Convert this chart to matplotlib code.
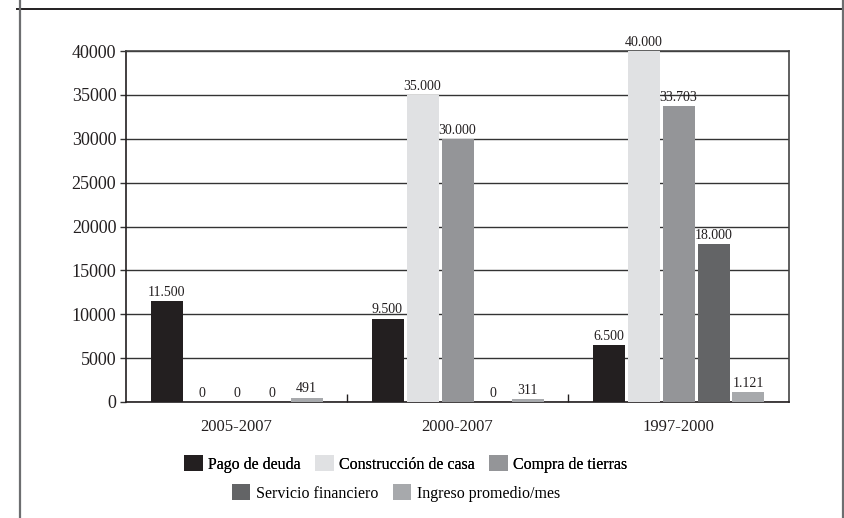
import matplotlib
matplotlib.use("Agg")
import matplotlib.pyplot as plt
from matplotlib.patches import Patch
from matplotlib.lines import Line2D
import numpy as np

categories = ["2005-2007", "2000-2007", "1997-2000"]
series_names = ["Pago de deuda", "Construcción de casa", "Compra de tierras",
                "Servicio financiero", "Ingreso promedio/mes"]
pago = [11500, 9500, 6500]
construccion = [0, 35000, 40000]
compra = [0, 30000, 33703]
servicio = [0, 0, 18000]
ingreso = [491, 311, 1121]
labels_pago = ["11.500", "9.500", "6.500"]
labels_construccion = ["0", "35.000", "40.000"]
labels_compra = ["0", "30.000", "33.703"]
labels_servicio = ["0", "0", "18.000"]
labels_ingreso = ["491", "311", "1.121"]
yticks = [0, 5000, 10000, 15000, 20000, 25000, 30000, 35000, 40000]

series = [pago, construccion, compra, servicio, ingreso]
series_labels = [labels_pago, labels_construccion, labels_compra, labels_servicio, labels_ingreso]
colors = ["#231f20", "#e0e1e3", "#949598", "#636466", "#a7a9ac"]

plt.rcParams['font.family'] = ['Liberation Serif', 'DejaVu Serif']

fig = plt.figure(figsize=(8.44, 5.18), dpi=100)
ax = fig.add_axes([126/844, 1 - 402/518, (789 - 126)/844, (402 - 51)/518])

x = np.arange(len(categories))
pitch = 35/221
width = 32/221
for i, (vals, labs, col) in enumerate(zip(series, series_labels, colors)):
    pos = x + (i - 2) * pitch
    ax.bar(pos, vals, width=width, color=col, zorder=3)
    for p, v, l in zip(pos, vals, labs):
        ax.text(p, v + 250, l, ha='center', va='bottom', fontsize=10, color='#231f20', zorder=4)

ax.set_xlim(-0.5, 2.5)
ax.set_ylim(0, 40000)
ax.set_yticks(yticks)
ax.set_yticklabels([str(t) for t in yticks], fontsize=13, color='#231f20')
ax.yaxis.grid(True, color='#333333', linewidth=1.0, zorder=0)
ax.set_axisbelow(True)
ax.tick_params(axis='y', direction='out', length=4, width=1, color='#333333', pad=3)

# category labels and boundary ticks
ax.set_xticks(x)
ax.set_xticklabels(categories, fontsize=12, color='#231f20')
ax.tick_params(axis='x', length=0, pad=12)
ax.set_xticks([0.5, 1.5], minor=True)
ax.tick_params(axis='x', which='minor', direction='in', length=6, width=1, color='#231f20')

for s in ax.spines.values():
    s.set_color('#444444')
    s.set_linewidth(1.2)
ax.spines['bottom'].set_color('#231f20')
ax.spines['left'].set_color('#231f20')

# outer frame lines
fig.add_artist(Line2D([17/844, 1], [1 - 8.5/518, 1 - 8.5/518], transform=fig.transFigure,
                      color='#231f20', linewidth=1.4))
fig.add_artist(Line2D([20/844, 20/844], [0, 1], transform=fig.transFigure,
                      color='#6d6e70', linewidth=1.6))
fig.add_artist(Line2D([842.5/844, 842.5/844], [0, 1], transform=fig.transFigure,
                      color='#6d6e70', linewidth=1.6))

handles = [Patch(facecolor=c, edgecolor='none') for c in colors]
leg_kw = dict(loc='center', frameon=False, fontsize=11.5, handlelength=1.15,
              handleheight=1.15, handletextpad=0.35, columnspacing=0.9,
              borderpad=0, borderaxespad=0)
leg1 = fig.legend(handles[:3], series_names[:3], ncol=3,
                  bbox_to_anchor=(406/844, 1 - 464/518), **leg_kw)
leg2 = fig.legend(handles[3:], series_names[3:], ncol=2,
                  bbox_to_anchor=(396/844, 1 - 493/518), **leg_kw)
fig.add_artist(leg1)

fig.savefig("out.png", dpi=100)
